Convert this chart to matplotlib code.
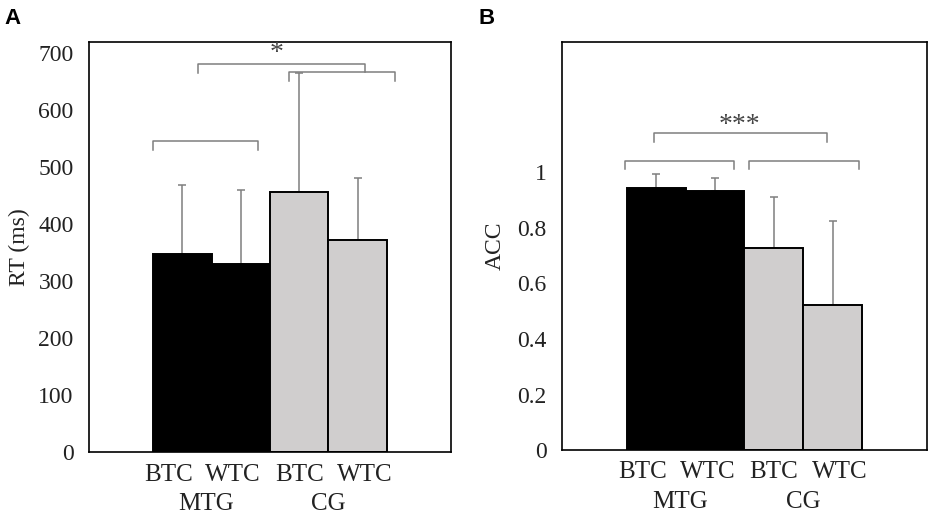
import matplotlib
matplotlib.use("Agg")
import matplotlib.pyplot as plt

plt.rcParams['font.family'] = ['Liberation Serif', 'DejaVu Serif']

conditions = ["BTC", "WTC", "BTC", "WTC"]
groups = ["MTG", "CG"]
rt_means = [347, 331, 456, 373]
rt_err_top = [469, 460, 665, 482]
acc_means = [0.945, 0.933, 0.728, 0.521]
acc_err_top = [0.993, 0.981, 0.912, 0.826]
rt_ticks = [0, 100, 200, 300, 400, 500, 600, 700]
acc_ticks = [0, 0.2, 0.4, 0.6, 0.8, 1.0]
acc_ticklabels = ["0", "0.2", "0.4", "0.6", "0.8", "1"]

BLACK = "#000000"
GRAY = "#d0cece"
LINE = "#7f7f7f"
TEXT = "#222222"
bar_colors = [BLACK, BLACK, GRAY, GRAY]

fig = plt.figure(figsize=(9.35, 5.31), dpi=100)
axA = fig.add_axes([0.0952, 0.1488, 0.3872, 0.7721])
axB = fig.add_axes([0.6007, 0.1525, 0.3911, 0.7684])

x = list(range(4))

def draw(ax, means, tops, ylim, ticks, ticklabels, ylabel):
    errs = [t - m for t, m in zip(tops, means)]
    ax.bar(x, means, width=1.0, color=bar_colors, edgecolor="black",
           linewidth=1.4, zorder=2)
    ax.errorbar(x, means, yerr=[[0] * 4, errs], fmt="none", ecolor=LINE,
                elinewidth=1.1, capsize=3, capthick=1.1, zorder=1)
    ax.set_xlim(-1.6, 4.6)
    ax.set_ylim(*ylim)
    ax.set_yticks(ticks)
    ax.set_yticklabels(ticklabels)
    ax.tick_params(axis="y", length=0, pad=11, labelsize=17, labelcolor=TEXT)
    ax.set_xticks([])
    for s in ax.spines.values():
        s.set_linewidth(1.2)
        s.set_color("black")
    ax.set_ylabel(ylabel, fontsize=17, color=TEXT)
    for xi, lab in zip([-0.23, 0.87, 2.0, 3.12], conditions):
        ax.text(xi, -0.055, lab, transform=ax.get_xaxis_transform(),
                ha="center", va="center", fontsize=18, color=TEXT)
    for xi, lab in zip([0.4, 2.5], groups):
        ax.text(xi, -0.127, lab, transform=ax.get_xaxis_transform(),
                ha="center", va="center", fontsize=18, color=TEXT)

def bracket(ax, x0, x1, y, drop_l, drop_r):
    ax.plot([x0, x0, x1, x1], [y - drop_l, y, y, y - drop_r], color=LINE,
            linewidth=1.1, zorder=3, clip_on=False)

draw(axA, rt_means, rt_err_top, (0, 720), rt_ticks,
     [str(t) for t in rt_ticks], "RT (ms)")
draw(axB, acc_means, acc_err_top, (0, 1.47), acc_ticks, acc_ticklabels, "ACC")
axA.yaxis.labelpad = 6
axB.yaxis.labelpad = 8

# Panel A brackets
bracket(axA, -0.5, 1.3, 546, 16, 16)
bracket(axA, 1.83, 3.64, 668, 16, 16)
bracket(axA, 0.27, 3.12, 682, 16, 14)
axA.text(1.62, 700, "*", ha="center", va="center", fontsize=20, color="#444444")

# Panel B brackets
bracket(axB, -0.53, 1.32, 1.042, 0.031, 0.031)
bracket(axB, 1.58, 3.44, 1.042, 0.031, 0.031)
bracket(axB, -0.04, 2.9, 1.143, 0.034, 0.034)
axB.text(1.41, 1.17, "***", ha="center", va="center", fontsize=20, color="#444444")

fig.text(0.005, 0.985, "A", fontsize=16, fontweight="bold",
         family=["Liberation Sans", "DejaVu Sans"], va="top", ha="left")
fig.text(0.512, 0.985, "B", fontsize=16, fontweight="bold",
         family=["Liberation Sans", "DejaVu Sans"], va="top", ha="left")

fig.savefig("out.png", dpi=100, facecolor="white")
